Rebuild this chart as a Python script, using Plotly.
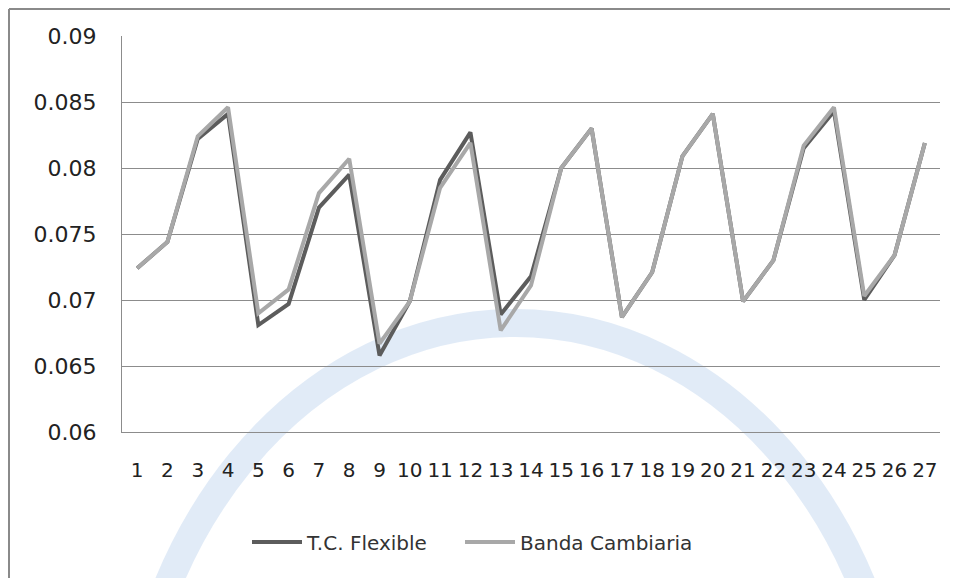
import plotly.graph_objects as go

categories = [str(i) for i in range(1, 28)]
tc_flexible = [0.0724, 0.0744, 0.0822, 0.0841, 0.0681, 0.0697, 0.0770, 0.0795, 0.0658, 0.0699,
               0.0791, 0.0827, 0.0689, 0.0718, 0.0800, 0.0830, 0.0687, 0.0721, 0.0809, 0.0841,
               0.0699, 0.0730, 0.0815, 0.0843, 0.0700, 0.0734, 0.0819]
banda_cambiaria = [0.0724, 0.0744, 0.0824, 0.0846, 0.0690, 0.0708, 0.0781, 0.0807, 0.0667, 0.0699,
                   0.0785, 0.0819, 0.0677, 0.0711, 0.0800, 0.0830, 0.0687, 0.0721, 0.0809, 0.0841,
                   0.0699, 0.0730, 0.0817, 0.0846, 0.0703, 0.0734, 0.0819]
y_ticks = [0.06, 0.065, 0.07, 0.075, 0.08, 0.085, 0.09]
y_tick_labels = ["0.06", "0.065", "0.07", "0.075", "0.08", "0.085", "0.09"]

FONT = "DejaVu Sans"
OFF = 8  # page body margin

fig = go.Figure()
fig.add_trace(go.Scatter(x=categories, y=tc_flexible, mode="lines", name="T.C. Flexible",
                         line=dict(color="#5c5c5c", width=4), legend="legend"))
fig.add_trace(go.Scatter(x=categories, y=banda_cambiaria, mode="lines", name="Banda Cambiaria",
                         line=dict(color="#a8a8a8", width=4), legend="legend2"))

# target pixel layout (in screenshot coordinates)
PL, PR, PT, PB = 122, 940, 36, 432
W, H = 958 - OFF, 578 - OFF
L, T = PL - OFF, PT - OFF
R = W - (PR - OFF)
B = H - (PB - OFF)
pw, ph = W - L - R, H - T - B

def px(x):
    return (x - PL) / pw

def py(y):
    return (PB - y) / ph

shapes = [
    # watermark ring
    dict(type="circle", xref="paper", yref="paper", layer="below",
         x0=px(126), x1=px(904), y0=py(1277), y1=py(323),
         line=dict(color="rgba(200,219,241,0.55)", width=28)),
    # outer frame
    dict(type="line", xref="paper", yref="paper", x0=px(9), x1=px(9), y0=py(9), y1=py(600),
         line=dict(color="#8a8a8a", width=2)),
    dict(type="line", xref="paper", yref="paper", x0=px(9), x1=px(980), y0=py(9), y1=py(9),
         line=dict(color="#8a8a8a", width=2)),
]

legend_common = dict(orientation="h", xanchor="left", y=py(542), yanchor="middle",
                     font=dict(size=20, color="#333333"), bgcolor="rgba(0,0,0,0)",
                     itemwidth=50)

fig.update_layout(
    width=W, height=H,
    margin=dict(l=L, r=R, t=T, b=B, autoexpand=False),
    paper_bgcolor="white", plot_bgcolor="rgba(0,0,0,0)",
    font=dict(family=FONT, size=20, color="#222222"),
    showlegend=True,
    legend=dict(x=px(247), **legend_common),
    legend2=dict(x=px(460), **legend_common),
    shapes=shapes,
    xaxis=dict(type="category", range=[-0.5, 26.5], showgrid=False,
               showline=True, linecolor="#8c8c8c", linewidth=1, ticks="",
               ticklabelstandoff=20, tickfont=dict(size=20), zeroline=False),
    yaxis=dict(range=[0.06, 0.09], tickvals=y_ticks, ticktext=y_tick_labels,
               showgrid=True, gridcolor="#8c8c8c", gridwidth=1,
               showline=True, linecolor="#8c8c8c", linewidth=1, ticks="",
               ticklabelstandoff=20, tickfont=dict(size=22), zeroline=False),
)

fig.write_html("out.html")
